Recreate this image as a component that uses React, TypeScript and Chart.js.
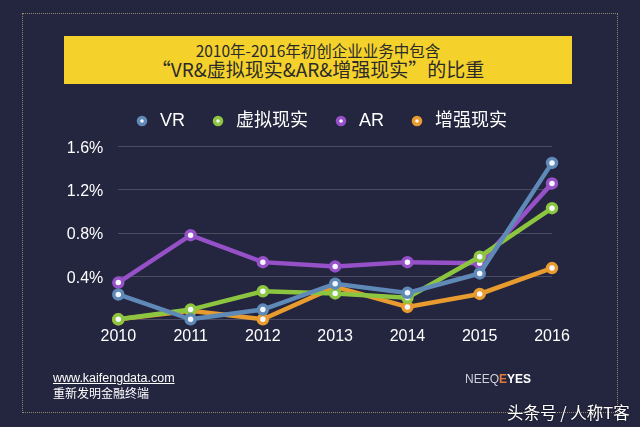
import React, { useEffect, useRef } from 'react';
import { Chart, registerables } from 'chart.js';

Chart.register(...registerables);

const years = ['2010', '2011', '2012', '2013', '2014', '2015', '2016'];
const vrShare = [0.23, 0, 0.09, 0.33, 0.245, 0.425, 1.45];
const virtualRealityShare = [0, 0.09, 0.26, 0.24, 0.2, 0.58, 1.03];
const arShare = [0.34, 0.78, 0.53, 0.49, 0.53, 0.52, 1.26];
const augmentedRealityShare = [0, 0.08, 0, 0.3, 0.115, 0.235, 0.475];
const seriesNames = ['VR', '虚拟现实', 'AR', '增强现实'];
const seriesColors = ['#5f89b7', '#8cc540', '#9650c8', '#e89b2e'];
const yTickValues = [0, 0.4, 0.8, 1.2, 1.6];
const yTickLabels = ['', '0.4%', '0.8%', '1.2%', '1.6%'];
const titleLine1 = '2010年-2016年初创企业业务中包含';
const titleLine2 = '“VR&虚拟现实&AR&增强现实”的比重';

const LATIN = '"Liberation Sans", "Noto Sans CJK SC", sans-serif';
const CJK = '"Noto Sans CJK SC", "Liberation Sans", sans-serif';

export default function App() {
  const canvasRef = useRef<HTMLCanvasElement | null>(null);

  useEffect(() => {
    if (!canvasRef.current) return;
    const series = [vrShare, virtualRealityShare, arShare, augmentedRealityShare];
    const chart = new Chart(canvasRef.current, {
      type: 'line',
      data: {
        labels: years,
        datasets: series.map((d, i) => ({
          label: seriesNames[i],
          data: d,
          borderColor: seriesColors[i],
          backgroundColor: seriesColors[i],
          borderWidth: 4.5,
          pointRadius: 4.5,
          pointBorderWidth: 3.5,
          pointBackgroundColor: '#f6f6ff',
          pointBorderColor: seriesColors[i],
          tension: 0,
          clip: false as any,
          xAxisID: 'x',
          yAxisID: 'y',
        })),
      },
      options: {
        animation: false,
        responsive: false,
        maintainAspectRatio: false,
        layout: { padding: { top: 88, left: 0, right: 0, bottom: 0 } },
        plugins: {
          legend: {
            position: 'top',
            labels: {
              usePointStyle: true,
              boxHeight: 5,
              boxWidth: 40,
              padding: 24,
              color: '#ffffff',
              font: { size: 18, family: LATIN },
            },
          },
          tooltip: { enabled: false },
        },
        scales: {
          x: {
            type: 'category',
            position: 'bottom',
            grid: { display: false },
            border: { display: false },
            ticks: {
              color: '#ffffff',
              font: { size: 16, family: LATIN },
              padding: 0,
              maxRotation: 0,
              autoSkip: false,
            },
            afterFit: (s: any) => {
              s.height = 107.7;
            },
          },
          xTop: {
            type: 'category',
            position: 'top',
            display: true,
            grid: { display: false },
            border: { display: false },
            ticks: { display: false },
            afterFit: (s: any) => {
              s.height = 6.7;
            },
          },
          y: {
            type: 'linear',
            position: 'left',
            min: 0,
            max: 1.6,
            afterBuildTicks: (s: any) => {
              s.ticks = yTickValues.map((v) => ({ value: v }));
            },
            ticks: {
              callback: (_v: any, i: number) => yTickLabels[i],
              color: '#ffffff',
              font: { size: 16, family: LATIN },
              padding: 15,
              labelOffset: 2,
            },
            grid: { color: 'rgba(255,255,255,0.18)', lineWidth: 1, drawTicks: false },
            border: { display: false },
            afterFit: (s: any) => {
              s.width = 118.3;
            },
          },
          yRight: {
            type: 'linear',
            position: 'right',
            display: true,
            grid: { display: false },
            border: { display: false },
            ticks: { display: false },
            afterFit: (s: any) => {
              s.width = 88;
            },
          },
        },
      } as any,
    });
    return () => chart.destroy();
  }, []);

  return (
    <div
      style={{
        position: 'absolute',
        left: 0,
        top: 0,
        width: 640,
        height: 427,
        background: '#24253f',
        overflow: 'hidden',
      }}
    >
      <div
        style={{
          position: 'absolute',
          left: 22,
          top: 13,
          width: 596,
          height: 400,
          border: '1px dotted rgba(185,170,120,0.75)',
          boxSizing: 'border-box',
        }}
      />
      <div
        style={{
          position: 'absolute',
          left: 64,
          top: 36,
          width: 508,
          height: 48,
          background: '#f4d22b',
          display: 'flex',
          flexDirection: 'column',
          alignItems: 'center',
          justifyContent: 'center',
          color: '#2b2a2a',
          fontFamily: CJK,
          fontWeight: 400,
        }}
      >
        <div style={{ fontSize: 15.5, lineHeight: '18px', whiteSpace: 'nowrap' }}>{titleLine1}</div>
        <div style={{ fontSize: 19, lineHeight: '20px', whiteSpace: 'nowrap' }}>{titleLine2}</div>
      </div>
      <canvas
        ref={canvasRef}
        width={640}
        height={427}
        style={{ position: 'absolute', left: 0, top: 0, width: 640, height: 427, display: 'block' }}
      />
      <div
        style={{
          position: 'absolute',
          left: 53,
          top: 371,
          color: '#ffffff',
          fontFamily: LATIN,
          fontSize: 12.5,
          lineHeight: '15px',
          textDecoration: 'underline',
          whiteSpace: 'nowrap',
        }}
      >
        www.kaifengdata.com
      </div>
      <div
        style={{
          position: 'absolute',
          left: 53,
          top: 385,
          color: '#ffffff',
          fontFamily: CJK,
          fontSize: 12,
          lineHeight: '16px',
          whiteSpace: 'nowrap',
        }}
      >
        重新发明金融终端
      </div>
      <div
        style={{
          position: 'absolute',
          left: 465,
          top: 372,
          fontFamily: LATIN,
          fontSize: 12,
          lineHeight: '14px',
          whiteSpace: 'nowrap',
        }}
      >
        <span style={{ color: '#cfd0d8' }}>NEEQ</span>
        <span style={{ color: '#e07b39', fontWeight: 700 }}>E</span>
        <span style={{ color: '#ffffff', fontWeight: 700 }}>YES</span>
      </div>
      <div
        style={{
          position: 'absolute',
          left: 507,
          top: 402,
          color: '#ffffff',
          fontFamily: CJK,
          fontSize: 16.5,
          lineHeight: '20px',
          whiteSpace: 'nowrap',
          textShadow: '0 0 2px rgba(0,0,0,0.7)',
        }}
      >
        头条号 / 人称T客
      </div>
    </div>
  );
}
